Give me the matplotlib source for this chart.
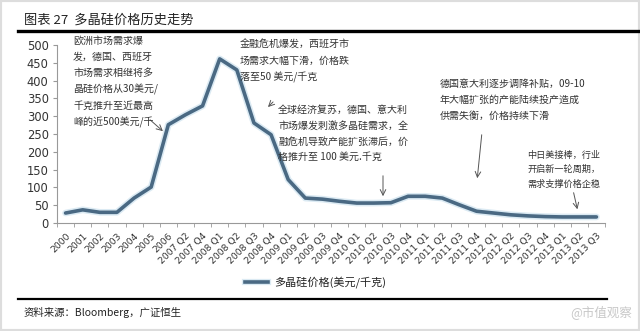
import numpy as np
import matplotlib.pyplot as plt
from matplotlib.lines import Line2D

plt.rcParams['font.family'] = ['Noto Sans CJK SC', 'DejaVu Sans']

# 多晶硅价格（美元/千克）
periods = ['2000', '2001', '2002', '2003', '2004', '2005', '2006',
           '2007 Q2', '2007 Q4', '2008 Q1', '2008 Q2', '2008 Q3', '2008 Q4',
           '2009 Q1', '2009 Q2', '2009 Q3', '2009 Q4', '2010 Q1', '2010 Q2',
           '2010 Q3', '2010 Q4', '2011 Q1', '2011 Q2', '2011 Q3', '2011 Q4',
           '2012 Q1', '2012 Q2', '2012 Q3', '2012 Q4', '2013 Q1', '2013 Q2',
           '2013 Q3']
prices = [28, 37, 30, 30, 70, 101, 276, 304, 329, 461, 430, 281, 248,
          122, 70, 67, 61, 56, 56, 57, 75, 75, 70, 51, 33, 28, 23, 20,
          18, 17, 17, 17]
y_ticks = list(range(0, 501, 50))

line_color = '#4a6983'
glow_color = '#dbeaf3'

fig = plt.figure(figsize=(6.4, 3.31), dpi=100)
fig.patch.set_facecolor('white')
W, H = 640, 331


def fx(px):
    return px / W


def fy(py):
    return 1 - py / H


ax = fig.add_axes([fx(57), fy(223), fx(605) - fx(57), fy(45) - fy(223)])
x = np.arange(len(periods))
ax.plot(x, prices, color=glow_color, lw=4.8, solid_capstyle='round', zorder=2)
ax.plot(x, prices, color=line_color, lw=2.6, solid_capstyle='round', zorder=3)

ax.set_xlim(-0.5, len(periods) - 0.5)
ax.set_ylim(0, 500)
ax.set_yticks(y_ticks)
ax.set_yticklabels([str(v) for v in y_ticks], fontsize=8.3, color='#333333',
                   family='DejaVu Sans')
ax.tick_params(axis='y', length=3, color='#999999', pad=3)
ax.set_xticks(x)
ax.set_xticklabels(periods, rotation=45, ha='right', rotation_mode='anchor',
                   fontsize=6.7, color='#333333', family='DejaVu Sans')
ax.tick_params(axis='x', which='major', length=0, pad=6)
ax.set_xticks(np.arange(-0.5, len(periods), 1), minor=True)
ax.tick_params(axis='x', which='minor', length=3, color='#999999')
for side in ['top', 'right']:
    ax.spines[side].set_visible(False)
for side in ['left', 'bottom']:
    ax.spines[side].set_color('#999999')
    ax.spines[side].set_linewidth(0.8)

# 标题与分隔线
fig.text(fx(24), fy(20), '图表 27  多晶硅价格历史走势', fontsize=9.5,
         va='center', ha='left', color='#222222')
fig.add_artist(Line2D([fx(18), fx(640)], [fy(31), fy(31)], color='black',
                      lw=2.4, transform=fig.transFigure))
fig.add_artist(Line2D([fx(18), fx(607)], [fy(299), fy(299)], color='black',
                      lw=1.6, transform=fig.transFigure))
fig.text(fx(24), fy(312), '资料来源：Bloomberg，广证恒生', fontsize=7.5,
         va='center', ha='left', color='#222222')
fig.text(fx(640 - 8), fy(313), '@市值观察', fontsize=9, va='center',
         ha='right', color='#c8c8c8')

# 图例
fig.add_artist(Line2D([fx(245), fx(268)], [fy(282), fy(282)], color=glow_color,
                      lw=4.5, transform=fig.transFigure))
fig.add_artist(Line2D([fx(245), fx(268)], [fy(282), fy(282)], color=line_color,
                      lw=2.6, transform=fig.transFigure))
fig.text(fx(274), fy(282), '多晶硅价格(美元/千克)', fontsize=8, va='center',
         ha='left', color='#222222')

# 注释文字
notes = [
    (73, 36, '欧洲市场需求爆\n发，德国、西班牙\n市场需求相继将多\n晶硅价格从30美元/\n千克推升至近最高\n峰的近500美元/千', 7.2),
    (240, 40, '金融危机爆发，西班牙市\n场需求大幅下滑，价格跌\n落至50 美元/千克', 7.2),
    (278, 105, '全球经济复苏，德国、意大利\n市场爆发刺激多晶硅需求，全\n融危机导致产能扩张滞后，价\n格推升至 100 美元.千克', 7.2),
    (440, 79, '德国意大利逐步调降补贴，09-10\n年大幅扩张的产能陆续投产造成\n供需失衡，价格持续下滑', 7.2),
    (527, 151, '中日美接棒，行业\n开启新一轮周期，\n需求支撑价格企稳', 6.6),
]
for px, py, txt, fs in notes:
    fig.text(fx(px), fy(py), txt, fontsize=fs, va='top', ha='left',
             color='#333333', linespacing=1.72)

arrows = [
    ((148, 118), (165, 133)),
    ((275, 100), (266, 109)),
    ((383, 173), (383, 199)),
    ((482, 132), (477, 181)),
    ((573, 190), (578, 212)),
]
for (x0, y0), (x1, y1) in arrows:
    fig.add_artist(plt.Annotation('', xy=(fx(x1), fy(y1)), xytext=(fx(x0), fy(y0)),
                                  xycoords='figure fraction',
                                  textcoords='figure fraction',
                                  arrowprops=dict(arrowstyle='->', color='#555555',
                                                  lw=0.7)))

# 外框
fig.add_artist(plt.Rectangle((0, 0), 1, 1, transform=fig.transFigure,
                             fill=False, edgecolor='#dddddd', lw=3))

fig.savefig('out.png', dpi=100, facecolor='white')
